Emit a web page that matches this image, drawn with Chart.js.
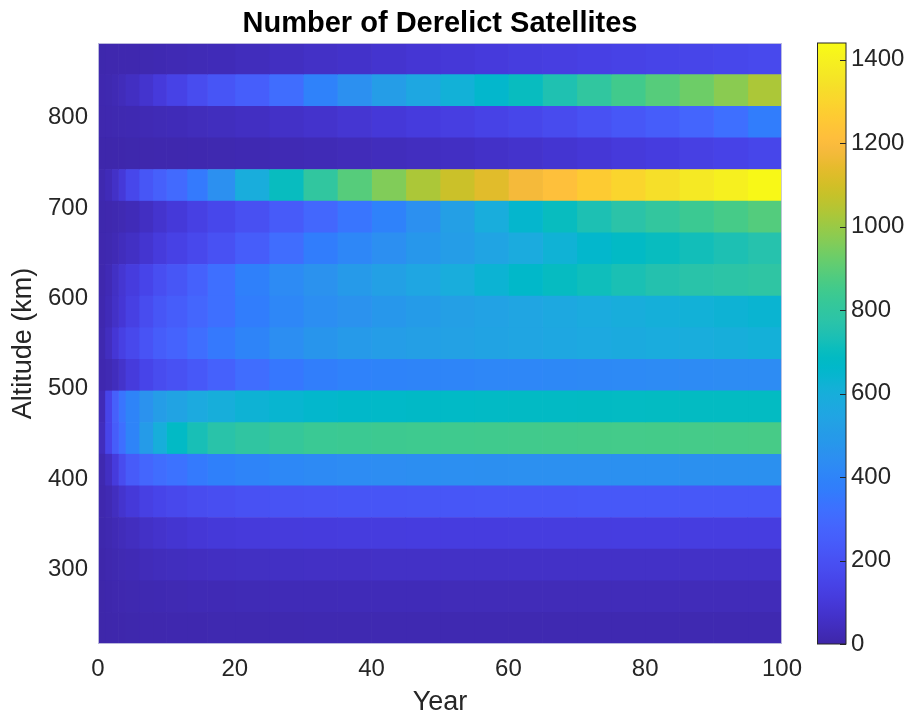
<!DOCTYPE html>
<html>
<head>
<meta charset="utf-8">
<script src="https://cdn.jsdelivr.net/npm/chart.js@4.4.0/dist/chart.umd.min.js"></script>
<style>
  body { margin: 0; background: #fff; }
</style>
</head>
<body>
<canvas id="heatChart" width="910" height="719"></canvas>
<script>
// year at which each column of cells starts (last one runs to yearEnd)
const years = [0, 1, 2, 3, 4, 6, 8, 10, 13, 16, 20, 25, 30, 35, 40, 45, 50, 55, 60, 65, 70, 75, 80, 85, 90, 95];
const yearEnd = 100;

// altitude band centres (km), top to bottom, 35 km wide
const altitudes = [865, 830, 795, 760, 725, 690, 655, 620, 585, 550, 515, 480, 445, 410, 375, 340, 305, 270, 235];
const altMin = 217.5;
const altMax = 882.5;

// derelict satellite counts per band, one value per column in years
const alt865 = [8, 10, 10, 12, 12, 15, 18, 22, 26, 30, 38, 48, 58, 68, 78, 88, 98, 108, 118, 125, 133, 140, 147, 153, 160, 167];
const alt830 = [12, 15, 22, 35, 50, 75, 105, 140, 180, 215, 255, 310, 390, 450, 510, 560, 615, 655, 700, 745, 800, 850, 890, 930, 975, 1030];
const alt795 = [10, 12, 14, 16, 18, 22, 26, 30, 36, 42, 50, 60, 72, 85, 98, 112, 125, 140, 155, 175, 200, 225, 250, 280, 320, 370];
const alt760 = [5, 5, 6, 7, 8, 9, 10, 11, 13, 15, 18, 22, 27, 32, 38, 45, 52, 62, 72, 82, 93, 105, 117, 130, 142, 155];
const alt725 = [15, 30, 60, 100, 160, 220, 260, 300, 360, 450, 590, 700, 800, 890, 960, 1030, 1085, 1130, 1180, 1220, 1265, 1300, 1335, 1370, 1400, 1430];
const alt690 = [8, 10, 14, 20, 30, 50, 75, 100, 130, 160, 195, 240, 290, 340, 390, 450, 520, 590, 650, 700, 740, 775, 805, 835, 860, 885];
const alt655 = [10, 15, 25, 40, 55, 80, 110, 135, 165, 200, 250, 310, 370, 410, 445, 480, 510, 545, 580, 620, 655, 680, 700, 720, 740, 760];
const alt620 = [10, 25, 55, 85, 115, 150, 190, 220, 265, 320, 385, 430, 460, 495, 525, 555, 590, 630, 665, 695, 715, 735, 755, 770, 780, 790];
const alt585 = [12, 30, 60, 90, 130, 180, 220, 250, 285, 320, 370, 410, 440, 460, 480, 500, 520, 535, 550, 565, 580, 595, 605, 615, 625, 635];
const alt550 = [15, 45, 90, 130, 165, 210, 250, 275, 315, 355, 400, 440, 475, 495, 510, 520, 530, 540, 550, 560, 570, 578, 585, 592, 600, 608];
const alt515 = [12, 20, 40, 70, 110, 150, 180, 200, 230, 265, 310, 350, 375, 390, 395, 400, 405, 410, 413, 417, 420, 424, 427, 430, 432, 435];
const alt480 = [30, 150, 260, 340, 400, 460, 510, 540, 575, 600, 625, 640, 655, 665, 670, 675, 678, 680, 682, 684, 686, 688, 689, 690, 690, 690];
const alt445 = [40, 150, 250, 320, 400, 500, 600, 680, 730, 770, 795, 815, 830, 835, 840, 842, 845, 848, 850, 852, 854, 856, 857, 858, 860, 862];
const alt410 = [15, 50, 110, 180, 240, 285, 310, 330, 360, 385, 400, 415, 425, 432, 438, 442, 445, 447, 449, 450, 451, 452, 452, 453, 453, 453];
const alt375 = [10, 20, 45, 75, 100, 130, 150, 165, 180, 190, 200, 207, 212, 215, 218, 220, 222, 224, 225, 226, 227, 228, 229, 230, 230, 230];
const alt340 = [8, 15, 25, 35, 45, 60, 72, 82, 92, 100, 105, 110, 112, 114, 115, 116, 117, 117, 118, 118, 118, 119, 119, 119, 120, 120];
const alt305 = [5, 10, 15, 20, 25, 32, 38, 42, 46, 50, 53, 55, 56, 57, 58, 58, 59, 59, 60, 60, 60, 60, 60, 60, 60, 60];
const alt270 = [4, 7, 10, 12, 14, 17, 19, 21, 23, 25, 27, 28, 29, 30, 30, 30, 31, 31, 31, 31, 31, 32, 32, 32, 32, 32];
const alt235 = [3, 5, 6, 7, 8, 10, 11, 12, 13, 14, 15, 15, 16, 16, 16, 16, 16, 17, 17, 17, 17, 17, 17, 17, 17, 17];

const bandValues = [alt865, alt830, alt795, alt760, alt725, alt690, alt655, alt620, alt585, alt550,
                    alt515, alt480, alt445, alt410, alt375, alt340, alt305, alt270, alt235];

// tick labels
const xTicks = [0, 20, 40, 60, 80, 100];
const yTicks = [300, 400, 500, 600, 700, 800];
const cbarTicks = [0, 200, 400, 600, 800, 1000, 1200, 1400];
const colorMin = 0;
const colorMax = 1440;

// parula colormap (64 steps)
const PARULA = [
  [0.2422,0.1504,0.6603],[0.2504,0.1650,0.7076],[0.2578,0.1818,0.7511],[0.2647,0.1978,0.7952],
  [0.2706,0.2147,0.8364],[0.2751,0.2342,0.8710],[0.2783,0.2559,0.8991],[0.2803,0.2782,0.9221],
  [0.2813,0.3006,0.9414],[0.2810,0.3228,0.9579],[0.2795,0.3447,0.9717],[0.2760,0.3667,0.9829],
  [0.2699,0.3892,0.9906],[0.2602,0.4123,0.9952],[0.2440,0.4358,0.9988],[0.2206,0.4603,0.9973],
  [0.1963,0.4847,0.9892],[0.1834,0.5074,0.9798],[0.1786,0.5289,0.9682],[0.1764,0.5499,0.9520],
  [0.1687,0.5703,0.9359],[0.1540,0.5902,0.9218],[0.1460,0.6091,0.9079],[0.1380,0.6276,0.8973],
  [0.1248,0.6459,0.8883],[0.1113,0.6635,0.8763],[0.0952,0.6798,0.8598],[0.0689,0.6948,0.8394],
  [0.0297,0.7082,0.8163],[0.0036,0.7203,0.7917],[0.0067,0.7312,0.7660],[0.0433,0.7411,0.7394],
  [0.0964,0.7500,0.7120],[0.1408,0.7584,0.6842],[0.1717,0.7670,0.6554],[0.1938,0.7758,0.6251],
  [0.2161,0.7843,0.5923],[0.2470,0.7918,0.5567],[0.2906,0.7973,0.5188],[0.3406,0.8008,0.4789],
  [0.3909,0.8029,0.4354],[0.4456,0.8024,0.3909],[0.5044,0.7993,0.3480],[0.5616,0.7942,0.3045],
  [0.6174,0.7876,0.2612],[0.6720,0.7793,0.2227],[0.7242,0.7698,0.1910],[0.7738,0.7598,0.1646],
  [0.8203,0.7498,0.1535],[0.8634,0.7406,0.1596],[0.9035,0.7330,0.1774],[0.9393,0.7288,0.2100],
  [0.9728,0.7298,0.2394],[0.9956,0.7434,0.2371],[0.9970,0.7659,0.2199],[0.9952,0.7893,0.2028],
  [0.9892,0.8136,0.1885],[0.9786,0.8386,0.1766],[0.9676,0.8639,0.1643],[0.9610,0.8890,0.1537],
  [0.9597,0.9135,0.1423],[0.9628,0.9373,0.1265],[0.9691,0.9606,0.1064],[0.9769,0.9839,0.0805]
];

function parula(v) {
  let t = (v - colorMin) / (colorMax - colorMin);
  t = Math.max(0, Math.min(1, t)) * (PARULA.length - 1);
  const i = Math.floor(t);
  const f = t - i;
  const a = PARULA[i];
  const b = PARULA[Math.min(i + 1, PARULA.length - 1)];
  const c = a.map((x, k) => Math.round((x + (b[k] - x) * f) * 255));
  return 'rgb(' + c[0] + ',' + c[1] + ',' + c[2] + ')';
}

const FONT = "'Liberation Sans', Arial, Helvetica, sans-serif";
const GREY = '#262626';
Chart.defaults.font.family = FONT;

// one dataset per year column, each bar is a floating [start, end] cell
const datasets = years.map((start, j) => {
  const end = j < years.length - 1 ? years[j + 1] : yearEnd;
  return {
    data: bandValues.map(() => [start, end]),
    backgroundColor: bandValues.map(vals => parula(vals[j])),
    borderWidth: 0,
    grouped: false,
    barPercentage: 1,
    categoryPercentage: 1
  };
});

// no label overhang padding, so every axis shares the same plot box
function noPad(s) {
  s.paddingTop = 0;
  s.paddingBottom = 0;
  s.paddingLeft = 0;
  s.paddingRight = 0;
}

// frame + colorbar
const colorbarPlugin = {
  id: 'colorbar',
  afterDraw(chart) {
    const ctx = chart.ctx;
    const area = chart.chartArea;
    const cb = chart.scales.cb;
    ctx.save();
    ctx.strokeStyle = 'rgba(200,200,225,0.9)';
    ctx.lineWidth = 1;
    ctx.strokeRect(area.left + 0.5, area.top + 0.5, area.right - area.left - 1, area.bottom - area.top - 1);

    const x0 = cb.left + 35.5;
    const w = 28.5;
    const yTop = cb.getPixelForValue(colorMax);
    const yBot = cb.getPixelForValue(colorMin);
    const grad = ctx.createLinearGradient(0, yBot, 0, yTop);
    PARULA.forEach((c, i) => {
      grad.addColorStop(i / (PARULA.length - 1),
        'rgb(' + Math.round(c[0] * 255) + ',' + Math.round(c[1] * 255) + ',' + Math.round(c[2] * 255) + ')');
    });
    ctx.fillStyle = grad;
    ctx.fillRect(x0, yTop, w, yBot - yTop);
    ctx.strokeStyle = GREY;
    ctx.lineWidth = 1;
    ctx.strokeRect(x0, yTop, w, yBot - yTop);
    ctx.beginPath();
    cbarTicks.forEach(v => {
      const y = Math.round(cb.getPixelForValue(v)) + 0.5;
      ctx.moveTo(x0 + w - 6, y);
      ctx.lineTo(x0 + w, y);
    });
    ctx.stroke();
    ctx.restore();
  }
};

const tickFont = { family: FONT, size: 24 };
const plainLabel = v => String(v);

var ctx = document.getElementById('heatChart').getContext('2d');
var heatChart = new Chart(ctx, {
  type: 'bar',
  data: {
    labels: altitudes,
    datasets: datasets
  },
  options: {
    indexAxis: 'y',
    responsive: false,
    animation: false,
    layout: { padding: 0 },
    plugins: {
      legend: { display: false },
      tooltip: { enabled: false },
      title: {
        display: true,
        text: 'Number of Derelict Satellites',
        fullSize: false,
        color: '#000',
        font: { family: FONT, size: 29, weight: 'bold' },
        padding: { top: 7, bottom: 1.2 }
      }
    },
    scales: {
      x: {
        type: 'linear',
        position: 'bottom',
        min: 0,
        max: yearEnd,
        offset: false,
        grid: { display: false, drawTicks: false, offset: false },
        border: { display: false },
        afterBuildTicks: s => { s.ticks = xTicks.map(v => ({ value: v })); },
        ticks: { color: GREY, font: tickFont, padding: 11, maxRotation: 0, autoSkip: false, callback: plainLabel },
        title: { display: true, text: 'Year', color: GREY, font: { family: FONT, size: 27 }, padding: { top: 0, bottom: 0 } },
        afterFit: s => { noPad(s); s.height = 75; }
      },
      y: {
        type: 'category',
        display: false
      },
      yAlt: {
        type: 'linear',
        position: 'left',
        min: altMin,
        max: altMax,
        offset: false,
        grid: { display: false, drawTicks: false, offset: false },
        border: { display: false },
        afterBuildTicks: s => { s.ticks = yTicks.map(v => ({ value: v })); },
        ticks: { color: GREY, font: tickFont, padding: 10, autoSkip: false, callback: plainLabel },
        title: { display: true, text: 'Altitude (km)', color: GREY, font: { family: FONT, size: 27 }, padding: { top: 7, bottom: 0 } },
        afterFit: s => { noPad(s); s.width = 98; }
      },
      cb: {
        type: 'linear',
        position: 'right',
        min: colorMin,
        max: colorMax,
        offset: false,
        grid: { display: false, drawTicks: false, offset: false },
        border: { display: false },
        afterBuildTicks: s => { s.ticks = cbarTicks.map(v => ({ value: v })); },
        ticks: { color: GREY, font: tickFont, padding: 69, autoSkip: false, callback: plainLabel },
        afterFit: s => { noPad(s); s.width = 128; }
      }
    }
  },
  plugins: [colorbarPlugin]
});
</script>
</body>
</html>
